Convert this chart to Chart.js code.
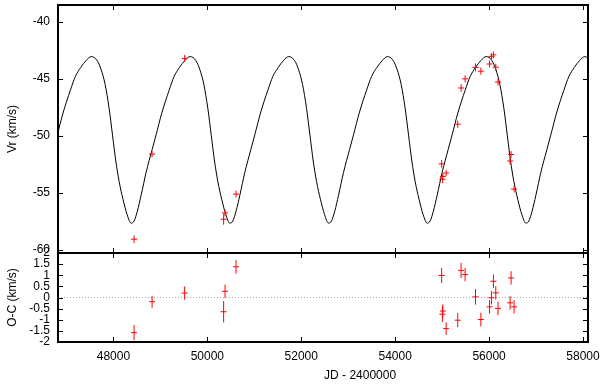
<!DOCTYPE html>
<html>
<head>
<meta charset="utf-8">
<script src="https://cdn.jsdelivr.net/npm/chart.js@4/dist/chart.umd.min.js"></script>
<style>
  html, body { margin: 0; padding: 0; background: #fff; }
  #wrap { position: relative; width: 600px; height: 388px; }
  canvas { position: absolute; left: 0; top: 0; }
</style>
</head>
<body>
<div id="wrap">
  <canvas id="bot" width="600" height="388"></canvas>
  <canvas id="top" width="600" height="388"></canvas>
</div>
<script>
// ---- observations ----
const obsJD = [48440, 48823, 49517, 50347, 50377, 50611, 54990, 55005, 55015, 55085, 55332, 55404, 55489, 55710, 55825, 56010, 56050, 56092, 56142, 56190, 56447, 56468, 56532];
const obsVr = [-59.05, -51.6, -43.2, -57.3, -56.75, -55.1, -52.45, -53.8, -53.55, -53.25, -48.98, -45.8, -45.0, -44.0, -44.33, -43.7, -43.06, -42.9, -43.98, -45.28, -52.2, -51.63, -54.66];
const obsOC = [-1.58, -0.19, 0.2, -0.64, 0.28, 1.38, 0.99, -0.75, -0.61, -1.4, -1.02, 1.22, 1.03, 0.03, -0.99, -0.42, -0.01, 0.73, 0.21, -0.49, -0.24, 0.88, -0.42];
const obsErr = [0.34, 0.27, 0.3, 0.48, 0.3, 0.31, 0.34, 0.35, 0.3, 0.28, 0.32, 0.34, 0.3, 0.35, 0.31, 0.3, 0.3, 0.3, 0.3, 0.3, 0.3, 0.3, 0.3];

// ---- orbital model curve ----
const modelJD = [46806, 46927, 47083, 47189, 47304, 47417,
  47530, 47654, 47739, 47824, 47909, 47983, 48051, 48122, 48207, 48292, 48377,
  48441, 48509, 48590, 48696, 48824, 48909, 49030, 49186, 49292, 49407, 49520,
  49632, 49756, 49841, 49926, 50011, 50085, 50153, 50224, 50309, 50394, 50479,
  50543, 50611, 50692, 50798, 50926, 51011, 51132, 51288, 51394, 51509, 51622,
  51734, 51858, 51943, 52028, 52113, 52187, 52255, 52326, 52411, 52496, 52581,
  52645, 52713, 52794, 52900, 53028, 53113, 53234, 53390, 53496, 53611, 53724,
  53834, 53958, 54043, 54128, 54213, 54287, 54355, 54426, 54511, 54596, 54681,
  54745, 54813, 54894, 55000, 55128, 55213, 55334, 55490, 55596, 55711, 55824,
  55936, 56060, 56145, 56230, 56315, 56389, 56457, 56528, 56613, 56698, 56783,
  56847, 56915, 56996, 57102, 57230, 57315, 57436, 57592, 57698, 57813, 57926,
  58038, 58162];
const modelVr = [-49.9, -48.0, -46.0, -44.8, -44.0, -43.4,
  -43.05, -43.4, -44.2, -45.5, -47.6, -50.0, -52.2, -54.0, -55.6, -56.9, -57.64,
  -57.45, -56.6, -55.2, -53.2, -51.2, -49.9, -48.0, -46.0, -44.8, -44.0, -43.4,
  -43.05, -43.4, -44.2, -45.5, -47.6, -50.0, -52.2, -54.0, -55.6, -56.9, -57.64,
  -57.45, -56.6, -55.2, -53.2, -51.2, -49.9, -48.0, -46.0, -44.8, -44.0, -43.4,
  -43.05, -43.4, -44.2, -45.5, -47.6, -50.0, -52.2, -54.0, -55.6, -56.9, -57.64,
  -57.45, -56.6, -55.2, -53.2, -51.2, -49.9, -48.0, -46.0, -44.8, -44.0, -43.4,
  -43.05, -43.4, -44.2, -45.5, -47.6, -50.0, -52.2, -54.0, -55.6, -56.9, -57.64,
  -57.45, -56.6, -55.2, -53.2, -51.2, -49.9, -48.0, -46.0, -44.8, -44.0, -43.4,
  -43.05, -43.4, -44.2, -45.5, -47.6, -50.0, -52.2, -54.0, -55.6, -56.9, -57.64,
  -57.45, -56.6, -55.2, -53.2, -51.2, -49.9, -48.0, -46.0, -44.8, -44.0, -43.4,
  -43.05, -43.4];

// ---- axes ----
const xTicks = [48000, 50000, 52000, 54000, 56000, 58000];
const vrTicks = [-60, -55, -50, -45, -40];
const ocTicks = [-2, -1.5, -1, -0.5, 0, 0.5, 1, 1.5, 2];
const xMin = 46820, xMax = 58106;
const vrMin = -60.26, vrMax = -38.53;
const ocMin = -2, ocMax = 2;
const xTitle = 'JD - 2400000';

const RED = '#ff0000';
const FONT = '"Liberation Sans", Arial, Helvetica, sans-serif';
Chart.defaults.font.family = FONT;
Chart.defaults.font.size = 12;
Chart.defaults.color = '#000';

const framePlugin = {
  id: 'frame',
  afterDraw(chart) {
    const {ctx, chartArea: a, scales} = chart;
    const tl = 5;
    ctx.save();
    ctx.strokeStyle = '#000';
    ctx.lineWidth = 1;
    ctx.beginPath();
    scales.x.ticks.forEach(t => {
      const px = Math.round(scales.x.getPixelForValue(t.value)) + 0.5;
      if (px <= a.left + 1 || px >= a.right - 1) return;
      ctx.moveTo(px, a.bottom); ctx.lineTo(px, a.bottom - tl);
      ctx.moveTo(px, a.top); ctx.lineTo(px, a.top + tl);
    });
    scales.y.ticks.forEach(t => {
      const py = Math.round(scales.y.getPixelForValue(t.value)) + 0.5;
      ctx.moveTo(a.left, py); ctx.lineTo(a.left + tl, py);
      ctx.moveTo(a.right, py); ctx.lineTo(a.right - tl, py);
    });
    ctx.stroke();
    ctx.lineWidth = 2;
    ctx.strokeRect(a.left, a.top, a.right - a.left, a.bottom - a.top);
    ctx.restore();
  }
};

// x-axis title, placed as in the original (gnuplot puts it right of the plot centre)
const xTitlePlugin = {
  id: 'xTitle',
  afterDraw(chart) {
    const {ctx, chartArea: a} = chart;
    ctx.save();
    ctx.font = '12px ' + FONT;
    ctx.fillStyle = '#000';
    ctx.textAlign = 'center';
    ctx.textBaseline = 'middle';
    ctx.fillText(xTitle, a.left + (a.right - a.left) * 0.57, a.bottom + 34);
    ctx.restore();
  }
};

function errSegments(ys) {
  const out = [];
  obsJD.forEach((x, i) => {
    out.push({x, y: ys[i] - obsErr[i]});
    out.push({x, y: ys[i] + obsErr[i]});
    out.push({x, y: null});
  });
  return out;
}
function pts(ys) { return obsJD.map((x, i) => ({x, y: ys[i]})); }
function noPadX(s, h) { s.height = h; s.paddingLeft = 0; s.paddingRight = 0; s.paddingTop = 0; s.paddingBottom = 0; }
function noPadY(s) { s.width = 58; s.paddingTop = 0; s.paddingBottom = 0; s.paddingLeft = 0; s.paddingRight = 0; }

const commonPlugins = { legend: {display: false}, tooltip: {enabled: false} };

// ---- top panel ----
new Chart(document.getElementById('top'), {
  type: 'scatter',
  data: {
    datasets: [
      { type: 'scatter', data: pts(obsVr), pointStyle: 'line', pointRadius: 3, borderColor: RED, backgroundColor: RED, pointBorderWidth: 1 },
      { type: 'line', data: errSegments(obsVr), borderColor: RED, borderWidth: 1, pointRadius: 0, spanGaps: false },
      { type: 'line', data: modelJD.map((x, i) => ({x, y: modelVr[i]})), borderColor: '#000', borderWidth: 1, pointRadius: 0, cubicInterpolationMode: 'monotone' }
    ]
  },
  options: {
    responsive: false, animation: false, devicePixelRatio: 1,
    layout: { padding: { left: 0, right: 12, top: 2, bottom: 135 } },
    plugins: commonPlugins,
    scales: {
      x: { type: 'linear', min: xMin, max: xMax,
        afterBuildTicks: s => { s.ticks = xTicks.map(v => ({value: v})); },
        afterFit: s => noPadX(s, 0),
        ticks: { display: false, autoSkip: false }, grid: { display: false }, border: { display: false } },
      y: { type: 'linear', min: vrMin, max: vrMax,
        afterBuildTicks: s => { s.ticks = vrTicks.map(v => ({value: v})); },
        afterFit: noPadY,
        ticks: { padding: 8, autoSkip: false, callback: v => String(v) },
        grid: { display: false, drawTicks: false }, border: { display: false },
        title: { display: true, text: 'Vr (km/s)', padding: { top: 5, bottom: 0 } } }
    }
  },
  plugins: [framePlugin]
});

// ---- bottom panel ----
new Chart(document.getElementById('bot'), {
  type: 'scatter',
  data: {
    datasets: [
      { type: 'scatter', data: pts(obsOC), pointStyle: 'line', pointRadius: 3, borderColor: RED, backgroundColor: RED, pointBorderWidth: 1 },
      { type: 'line', data: errSegments(obsOC), borderColor: RED, borderWidth: 1, pointRadius: 0, spanGaps: false },
      { type: 'line', data: [{x: xMin, y: 0}, {x: xMax, y: 0}], borderColor: '#a8a8a8', borderWidth: 1, borderDash: [1, 2], pointRadius: 0 }
    ]
  },
  options: {
    responsive: false, animation: false, devicePixelRatio: 1,
    layout: { padding: { left: 0, right: 12, top: 253, bottom: 0 } },
    plugins: commonPlugins,
    scales: {
      x: { type: 'linear', min: xMin, max: xMax,
        afterBuildTicks: s => { s.ticks = xTicks.map(v => ({value: v})); },
        afterFit: s => noPadX(s, 46),
        ticks: { padding: 7, maxRotation: 0, autoSkip: false, callback: v => String(v) },
        grid: { display: false, drawTicks: false }, border: { display: false },
        title: { display: false, text: xTitle } },
      y: { type: 'linear', min: ocMin, max: ocMax,
        afterBuildTicks: s => { s.ticks = ocTicks.map(v => ({value: v})); },
        afterFit: noPadY,
        ticks: { padding: 8, autoSkip: false, callback: v => String(v) },
        grid: { display: false, drawTicks: false }, border: { display: false },
        title: { display: true, text: 'O-C (km/s)', padding: { top: 5, bottom: 0 } } }
    }
  },
  plugins: [framePlugin, xTitlePlugin]
});
</script>
</body>
</html>
